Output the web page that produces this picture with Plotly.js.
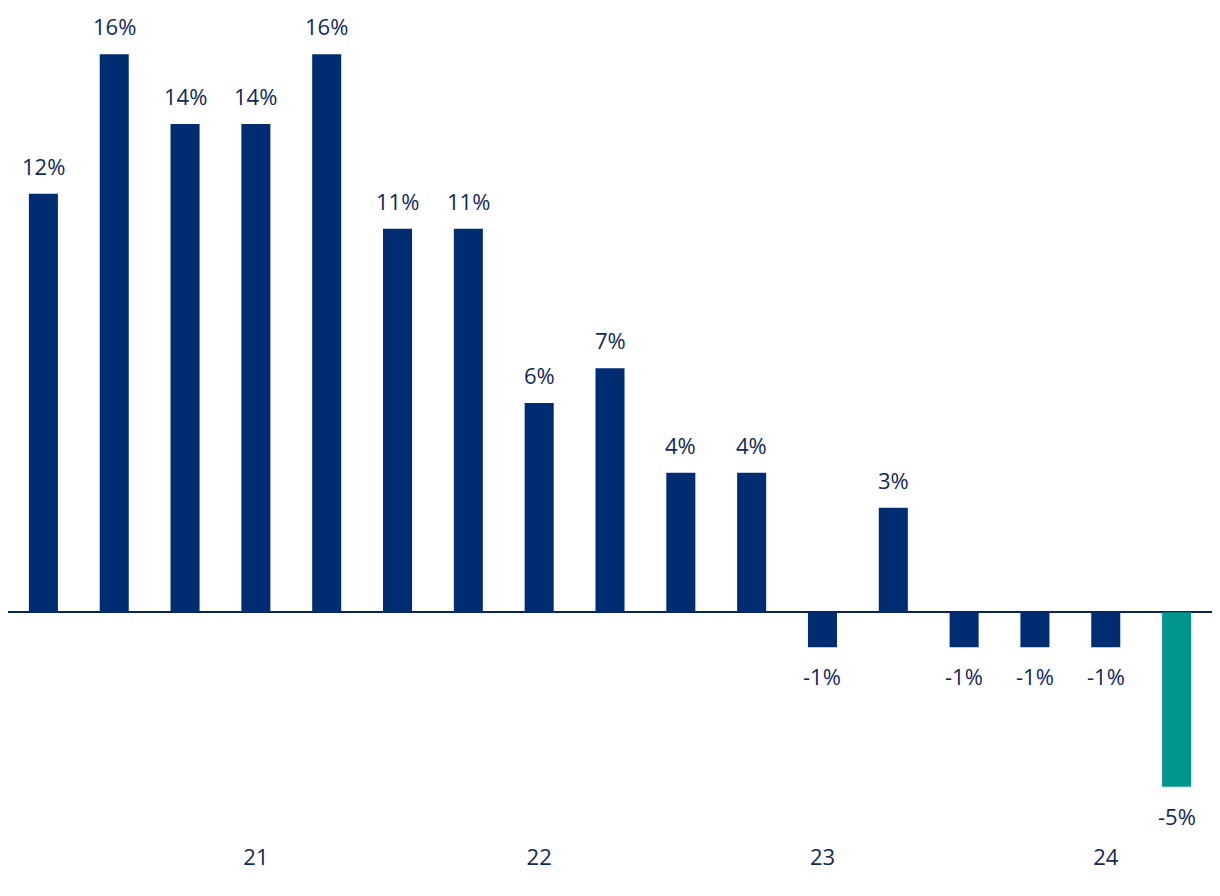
<!DOCTYPE html>
<html>
<head>
<meta charset="utf-8">
<script src="https://cdn.plot.ly/plotly-3.0.1.min.js"></script>
<style>html,body{margin:0;padding:0;background:#fff;}#chart{width:1220px;height:896px;}</style>
</head>
<body>
<div id="chart"></div>
<script>
const categories = ["Q1 21","Q2 21","Q3 21","Q4 21","Q1 22","Q2 22","Q3 22","Q4 22","Q1 23","Q2 23","Q3 23","Q4 23","Q1 24","Q2 24","Q3 24","Q4 24","Q1 25"];
const values = [12,16,14,14,16,11,11,6,7,4,4,-1,3,-1,-1,-1,-5];
const tickPositions = ["Q4 21","Q4 22","Q4 23","Q4 24"];
const tickLabels = ["21","22","23","24"];
const highlightIndex = 16;

const navy = "#002D72";
const teal = "#00968F";
const textColor = "#14285A";

const colors = values.map((v,i) => i === highlightIndex ? teal : navy);

const trace = {
  type: "bar",
  x: categories,
  y: values,
  marker: {color: colors},
  hoverinfo: "none"
};

const annotations = values.map((v,i) => ({
  x: categories[i],
  y: v,
  xref: "x", yref: "y",
  text: v + "%",
  showarrow: false,
  yanchor: v >= 0 ? "bottom" : "top",
  yshift: v >= 0 ? 11 : -12,
  font: {family: "Open Sans", size: 22, color: textColor}
}));

const layout = {
  width: 1220, height: 896,
  margin: {l: 8, r: 8, t: 2, b: 57},
  paper_bgcolor: "#fff", plot_bgcolor: "#fff",
  bargap: 0.59,
  showlegend: false,
  font: {family: "Open Sans", size: 22, color: textColor},
  annotations: annotations,
  xaxis: {
    type: "category",
    range: [-0.5, 16.5],
    tickmode: "array",
    tickvals: tickPositions,
    ticktext: tickLabels,
    showgrid: false, showline: false, ticks: "",
    ticklabelstandoff: 3,
    tickfont: {family: "Open Sans", size: 22, color: textColor}
  },
  yaxis: {
    range: [-6.5, 17.5],
    showgrid: false, showticklabels: false, ticks: "",
    zeroline: true, zerolinecolor: "#0A2557", zerolinewidth: 2
  }
};

Plotly.newPlot("chart", [trace], layout, {staticPlot: true});
</script>
</body>
</html>
